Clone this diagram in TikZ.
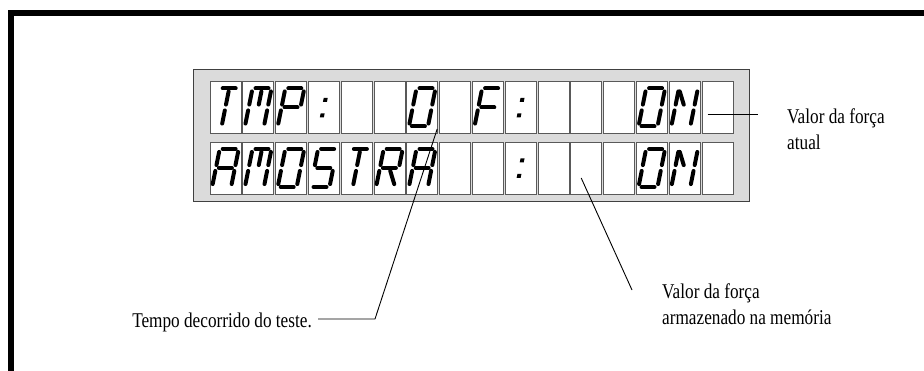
\documentclass[tikz,border=0pt]{standalone}
\usepackage{fontspec}
\setmainfont{Liberation Serif}[FakeStretch=0.82]
\usetikzlibrary{positioning}
\tikzset{
  lcdpanel/.style={draw=black!75,fill=black!14,line width=0.8pt,inner sep=0pt},
  lcdcell/.style={draw=black!65,fill=white,line width=0.8pt,minimum width=31pt,minimum height=52pt,inner sep=0pt},
  seg/.style={line width=4pt,line cap=round,shorten <=3pt,shorten >=3pt},
  lbl/.style={font=\fontsize{21}{26}\selectfont,align=left,inner sep=0pt},
  lead/.style={line width=0.9pt},
  frame/.style={line width=6pt}
}
% one LCD character: cell name, list of segments
\newcommand{\lcdglyph}[2]{%
  \begin{scope}[shift={(#1.center)},xslant=0.2]
    \coordinate (tl) at (-9.5,-19); \coordinate (tc) at (0,-19); \coordinate (tr) at (9.5,-19);
    \coordinate (ml) at (-9.5,0);   \coordinate (mc) at (0,0);   \coordinate (mr) at (9.5,0);
    \coordinate (bl) at (-9.5,19);  \coordinate (bc) at (0,19);  \coordinate (br) at (9.5,19);
    \foreach \p/\q in {#2} \draw[seg] (\p) -- (\q);
  \end{scope}}
\newcommand{\lcdcolon}[1]{%
  \begin{scope}[shift={(#1.center)},xslant=0.2]
    \fill (-2,-9.5) rectangle (2,-5.5);
    \fill (-2,6) rectangle (2,10);
  \end{scope}}

\begin{document}
\begin{tikzpicture}[x=1pt,y=-1pt]
  \useasboundingbox (0,0) rectangle (924,371);
  % outer frame
  \coordinate (fbot) at (11,371);
  \coordinate (fright) at (924,13);
  \draw[frame] (fbot) |- (fright);

  % LCD panel and cells
  \node[lcdpanel,minimum width=556pt,minimum height=132pt] (panel) at (471,135) {};
  \foreach \i in {1,...,16} {
    \node[lcdcell] (r1c\i) at ({209+32.8*(\i-0.5)},107.5) {};
    \node[lcdcell] (r2c\i) at ({209+32.8*(\i-0.5)},168) {};
  }

  % row 1: TMP:  0 F:   ON
  \lcdglyph{r1c1}{tl/tr,tc/mc,mc/bc}
  \lcdglyph{r1c2}{tl/tr,tl/ml,ml/bl,tr/mr,mr/br,tc/mc}
  \lcdglyph{r1c3}{tl/tr,tl/ml,tr/mr,ml/mr,ml/bl}
  \lcdcolon{r1c4}
  \lcdglyph{r1c7}{tl/tr,tr/mr,mr/br,bl/br,ml/bl,tl/ml}
  \lcdglyph{r1c9}{tl/tr,tl/ml,ml/mr,ml/bl}
  \lcdcolon{r1c10}
  \lcdglyph{r1c14}{tl/tr,tr/mr,mr/br,bl/br,ml/bl,tl/ml}
  \lcdglyph{r1c15}{tl/ml,ml/bl,tr/mr,mr/br,tl/mc}

  % row 2: AMOSTRA  :   ON
  \lcdglyph{r2c1}{tl/tr,tl/ml,tr/mr,ml/mr,ml/bl,mr/br}
  \lcdglyph{r2c2}{tl/tr,tl/ml,ml/bl,tr/mr,mr/br,tc/mc}
  \lcdglyph{r2c3}{tl/tr,tr/mr,mr/br,bl/br,ml/bl,tl/ml}
  \lcdglyph{r2c4}{tl/tr,tl/ml,ml/mr,mr/br,bl/br}
  \lcdglyph{r2c5}{tl/tr,tc/mc,mc/bc}
  \lcdglyph{r2c6}{tl/tr,tl/ml,tr/mr,ml/mr,ml/bl,mc/br}
  \lcdglyph{r2c7}{tl/tr,tl/ml,tr/mr,ml/mr,ml/bl,mr/br}
  \lcdcolon{r2c10}
  \lcdglyph{r2c14}{tl/tr,tr/mr,mr/br,bl/br,ml/bl,tl/ml}
  \lcdglyph{r2c15}{tl/ml,ml/bl,tr/mr,mr/br,tl/mc}

  % labels
  \node[lbl,anchor=north west] (lblnow) at (787,109) {Valor da força\\atual};
  \node[lbl,anchor=north west] (lblmem) at (662,284) {Valor da força\\armazenado na memória};
  \node[lbl,anchor=east] (lbltime) at (312,322) {Tempo decorrido do teste.};

  % leaders
  \coordinate (nowtip) at ([xshift=6pt,yshift=-6.5pt]r1c16.west);
  \coordinate (nowend) at (758,114);
  \draw[lead] (nowtip) -- (nowend);
  \coordinate (timetip) at ([xshift=15pt,yshift=-21.5pt]r1c7.center);
  \coordinate (timebend) at (375,319);
  \draw[lead] (timetip) -- (timebend) -- ([xshift=6pt,yshift=3pt]lbltime.east);
  \coordinate (memtip) at ([xshift=-5pt,yshift=-10pt]r2c12.center);
  \coordinate (memend) at (632,290);
  \draw[lead] (memtip) -- (memend);
\end{tikzpicture}
\end{document}
